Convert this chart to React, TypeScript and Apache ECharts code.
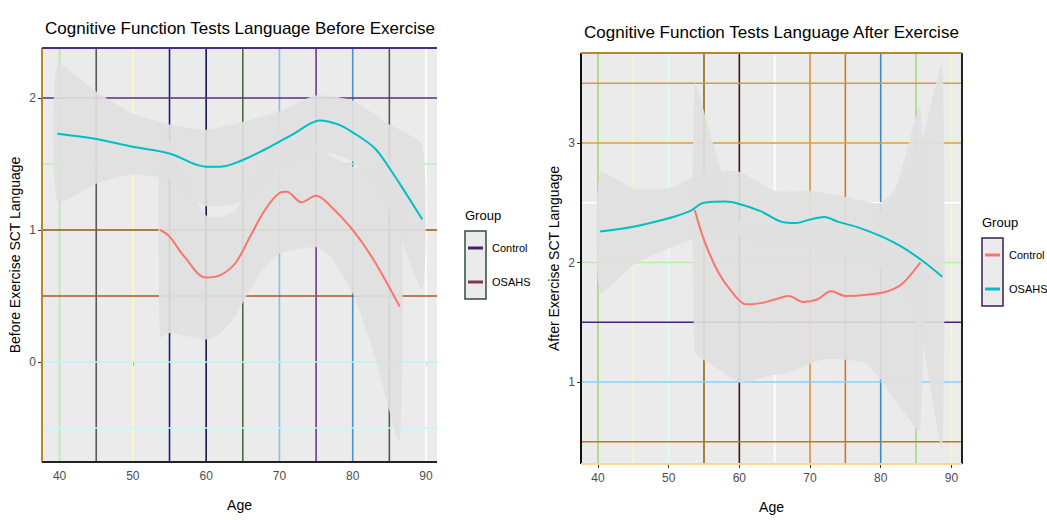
import React, { useEffect, useRef } from "react";
import * as echarts from "echarts";

// ---------- data ----------
const AGE_TICKS = [40, 50, 60, 70, 80, 90];
const BEFORE_Y_TICKS = [0, 1, 2];
const AFTER_Y_TICKS = [1, 2, 3];
const GROUPS = ["Control", "OSAHS"];
const TITLES = [
  "Cognitive Function Tests Language Before Exercise",
  "Cognitive Function Tests Language After Exercise",
];
const Y_TITLES = ["Before Exercise SCT Language", "After Exercise SCT Language"];
const X_TITLE = "Age";

// Before exercise – OSAHS smooth fit and its confidence band
const BEFORE_OSAHS_AGE = [39.7, 45, 50, 55, 60, 62, 65, 68, 70, 72, 74, 75.5, 78, 80, 83, 85, 87, 89.5];
const BEFORE_OSAHS_FIT = [1.73, 1.69, 1.63, 1.58, 1.48, 1.48, 1.53, 1.61, 1.67, 1.73, 1.8, 1.83, 1.8, 1.74, 1.62, 1.47, 1.3, 1.08];
const BEFORE_OSAHS_BAND_AGE = [39.7, 45, 50, 55, 60, 65, 70, 75, 80, 85, 89.5];
const BEFORE_OSAHS_LO = [1.22, 1.35, 1.42, 1.38, 1.18, 1.22, 1.45, 1.6, 1.52, 1.15, 0.55];
const BEFORE_OSAHS_HI = [2.25, 2.05, 1.88, 1.8, 1.76, 1.82, 1.9, 2.02, 1.98, 1.8, 1.64];

// Before exercise – Control
const BEFORE_CONTROL_AGE = [53.7, 55, 57, 60, 62, 64, 66, 68, 70, 71, 73, 75, 77, 80, 83, 86.4];
const BEFORE_CONTROL_FIT = [1.0, 0.95, 0.8, 0.64, 0.66, 0.75, 0.95, 1.15, 1.28, 1.29, 1.21, 1.26, 1.18, 1.0, 0.76, 0.42];
const BEFORE_CONTROL_BAND_AGE = [53.7, 55, 57, 60, 62, 64, 66, 68, 70, 72, 75, 77, 80, 83, 86.4];
const BEFORE_CONTROL_LO = [0.19, 0.22, 0.2, 0.17, 0.22, 0.35, 0.55, 0.72, 0.82, 0.85, 0.87, 0.8, 0.52, 0.05, -0.6];
const BEFORE_CONTROL_HI = [1.81, 1.68, 1.4, 1.11, 1.1, 1.15, 1.35, 1.58, 1.74, 1.68, 1.65, 1.56, 1.48, 1.47, 1.44];

// After exercise – OSAHS
const AFTER_OSAHS_AGE = [40.3, 45, 50, 53, 55, 58, 60, 63, 66, 68, 70, 72, 74, 77, 80, 83, 86, 88.7];
const AFTER_OSAHS_FIT = [2.26, 2.3, 2.37, 2.43, 2.5, 2.51, 2.49, 2.43, 2.34, 2.33, 2.36, 2.38, 2.34, 2.29, 2.22, 2.13, 2.01, 1.88];
const AFTER_OSAHS_BAND_AGE = [40.3, 45, 50, 55, 60, 65, 70, 75, 80, 84, 86, 88.7];
const AFTER_OSAHS_LO = [1.75, 1.98, 2.12, 2.22, 2.22, 2.12, 2.12, 2.08, 1.95, 1.65, 1.3, 0.45];
const AFTER_OSAHS_HI = [2.75, 2.62, 2.62, 2.75, 2.76, 2.6, 2.6, 2.55, 2.5, 2.75, 3.05, 3.65];

// After exercise – Control
const AFTER_CONTROL_AGE = [53.7, 55, 57, 59, 61, 63, 65, 67, 69, 71, 73, 75, 78, 81, 83, 85.6];
const AFTER_CONTROL_FIT = [2.44, 2.19, 1.92, 1.75, 1.65, 1.66, 1.69, 1.72, 1.67, 1.69, 1.76, 1.72, 1.73, 1.76, 1.82, 2.0];
const AFTER_CONTROL_BAND_AGE = [53.7, 56, 60, 64, 67, 72, 78, 82, 85.6];
const AFTER_CONTROL_LO = [1.25, 1.15, 1.0, 1.05, 1.08, 1.19, 1.15, 0.85, 0.6];
const AFTER_CONTROL_HI = [3.5, 3.05, 2.35, 2.3, 2.36, 2.3, 2.3, 2.6, 3.3];

// gridline values
const GRID_AGES = [40, 45, 50, 55, 60, 65, 70, 75, 80, 85, 90];
const BEFORE_GRID_Y = [-0.5, 0, 0.5, 1, 1.5, 2];
const AFTER_GRID_Y = [0.5, 1, 1.5, 2, 2.5, 3, 3.5];

// ---------- styles ----------
const X_RANGE = [37.6, 91.5];
const BEFORE_Y_RANGE = [-0.758, 2.379];
const AFTER_Y_RANGE = [0.314, 3.753];
const FONT = "'Liberation Sans', Arial, sans-serif";
const COLOR_CONTROL = "#F8766D";
const COLOR_OSAHS = "#00BFC4";
const BAND_FILL = "rgba(224,224,224,0.92)";

const BEFORE_VCOLORS = ["#B5EBA0", "#5A5A5A", "#FFF6C2", "#1E1E78", "#14144F", "#4F6B3A", "#7CC3F2", "#6B3A93", "#4B93C4", "#555555", "#FFFFFF"];
const BEFORE_HCOLORS = ["#C2F8FF", "#B4F6F8", "#A8582A", "#8A5A1E", "#B8F2B0", "#5B2D82"];
const BEFORE_EDGES = { left: "#B8862B", top: "#4B2C83", bottom: "#222222", right: null as string | null };
const AFTER_VCOLORS = ["#A5D67A", "#FFF4B8", "#E0FAFA", "#8B6A1A", "#3A1A12", "#FFFFFF", "#D8923F", "#C97A22", "#3B8BC2", "#A8D888", "#FFF6B0"];
const AFTER_HCOLORS = ["#B97A22", "#8FCFF8", "#4A1E7A", "#B6F0A8", "#FFFFFF", "#D9A14E", "#D99A3E"];
const AFTER_EDGES = { left: "#111111", top: "#B8862B", bottom: "#FFD88F", right: "#222222" };

function seg(idx: number, pts: number[][], color: string, width: number) {
  return {
    type: "line",
    xAxisIndex: idx,
    yAxisIndex: idx,
    data: pts,
    symbol: "none",
    silent: true,
    z: 1,
    lineStyle: { color, width },
  };
}

function gridSeries(idx: number, yRange: number[], gridY: number[], vColors: string[], hColors: string[], edges: any) {
  const out: any[] = [];
  GRID_AGES.forEach((a, i) => out.push(seg(idx, [[a, yRange[0]], [a, yRange[1]]], vColors[i], 1.6)));
  gridY.forEach((v, i) => out.push(seg(idx, [[X_RANGE[0], v], [X_RANGE[1], v]], hColors[i], 1.6)));
  if (edges.left) out.push(seg(idx, [[X_RANGE[0], yRange[0]], [X_RANGE[0], yRange[1]]], edges.left, 2));
  if (edges.right) out.push(seg(idx, [[X_RANGE[1], yRange[0]], [X_RANGE[1], yRange[1]]], edges.right, 2));
  if (edges.top) out.push(seg(idx, [[X_RANGE[0], yRange[1]], [X_RANGE[1], yRange[1]]], edges.top, 2));
  if (edges.bottom) out.push(seg(idx, [[X_RANGE[0], yRange[0]], [X_RANGE[1], yRange[0]]], edges.bottom, 2));
  return out;
}

function bandSeries(idx: number, ages: number[], lo: number[], hi: number[]) {
  return {
    type: "custom",
    xAxisIndex: idx,
    yAxisIndex: idx,
    z: 2,
    silent: true,
    clip: true,
    data: ages.map((a, i) => [a, lo[i], hi[i]]),
    encode: { x: 0, y: [1, 2] },
    renderItem: (params: any, api: any) => {
      if (params.dataIndex !== 0) return null;
      const up = ages.map((a, i) => api.coord([a, hi[i]]));
      const dn = ages.map((a, i) => api.coord([a, lo[i]])).reverse();
      return {
        type: "polygon",
        shape: { points: up.concat(dn), smooth: 0.2 },
        style: { fill: BAND_FILL },
      };
    },
  };
}

function fitSeries(idx: number, name: string, ages: number[], fit: number[], color: string) {
  return {
    type: "line",
    name,
    xAxisIndex: idx,
    yAxisIndex: idx,
    data: ages.map((a, i) => [a, fit[i]]),
    smooth: 0.35,
    symbol: "none",
    showSymbol: false,
    z: 3,
    lineStyle: { color, width: 2 },
  };
}

function xAxisCfg(idx: number) {
  return {
    type: "value",
    gridIndex: idx,
    min: X_RANGE[0],
    max: X_RANGE[1],
    splitLine: { show: false },
    axisLine: { show: false },
    axisTick: { show: true, customValues: AGE_TICKS, length: 4, lineStyle: { color: "#333333", width: 1 } },
    axisLabel: { customValues: AGE_TICKS, color: "#4D4D4D", fontSize: 12, margin: 8, fontFamily: FONT },
    name: X_TITLE,
    nameLocation: "middle",
    nameGap: 36,
    nameTextStyle: { fontSize: 14, color: "#000000", fontFamily: FONT },
  };
}

function yAxisCfg(idx: number, range: number[], ticks: number[], title: string) {
  return {
    type: "value",
    gridIndex: idx,
    min: range[0],
    max: range[1],
    splitLine: { show: false },
    axisLine: { show: false },
    axisTick: { show: true, customValues: ticks, length: 4, lineStyle: { color: "#333333", width: 1 } },
    axisLabel: { customValues: ticks, color: "#4D4D4D", fontSize: 12, margin: 6, fontFamily: FONT },
    name: title,
    nameLocation: "middle",
    nameGap: 20,
    nameTextStyle: { fontSize: 14, color: "#000000", fontFamily: FONT },
  };
}

function legendGraphic(x: number, y: number, keyColors: string[], stroke: string) {
  const els: any[] = [];
  els.push({
    type: "text",
    left: x,
    top: y,
    style: { text: "Group", fontSize: 13, fill: "#000", fontFamily: FONT },
  });
  els.push({
    type: "rect",
    shape: { x: x, y: y + 22, width: 21, height: 68 },
    style: { fill: "#EBEBEB", stroke, lineWidth: 1.5 },
  });
  GROUPS.forEach((g, i) => {
    const cy = y + 22 + 17 + i * 34;
    els.push({
      type: "line",
      shape: { x1: x + 3, y1: cy, x2: x + 18, y2: cy },
      style: { stroke: keyColors[i], lineWidth: 3 },
    });
    els.push({
      type: "text",
      x: x + 27,
      y: cy,
      style: { text: g, fontSize: 11, fill: "#000", fontFamily: FONT, verticalAlign: "middle" },
    });
  });
  return els;
}

export default function App() {
  const ref = useRef<HTMLDivElement>(null);
  useEffect(() => {
    document.body.style.margin = "0";
    if (!ref.current) return;
    const chart = echarts.init(ref.current, null, { renderer: "svg" });
    const series: any[] = [
      ...gridSeries(0, BEFORE_Y_RANGE, BEFORE_GRID_Y, BEFORE_VCOLORS, BEFORE_HCOLORS, BEFORE_EDGES),
      ...gridSeries(1, AFTER_Y_RANGE, AFTER_GRID_Y, AFTER_VCOLORS, AFTER_HCOLORS, AFTER_EDGES),
      bandSeries(0, BEFORE_OSAHS_BAND_AGE, BEFORE_OSAHS_LO, BEFORE_OSAHS_HI),
      bandSeries(0, BEFORE_CONTROL_BAND_AGE, BEFORE_CONTROL_LO, BEFORE_CONTROL_HI),
      bandSeries(1, AFTER_OSAHS_BAND_AGE, AFTER_OSAHS_LO, AFTER_OSAHS_HI),
      bandSeries(1, AFTER_CONTROL_BAND_AGE, AFTER_CONTROL_LO, AFTER_CONTROL_HI),
      fitSeries(0, GROUPS[1], BEFORE_OSAHS_AGE, BEFORE_OSAHS_FIT, COLOR_OSAHS),
      fitSeries(0, GROUPS[0], BEFORE_CONTROL_AGE, BEFORE_CONTROL_FIT, COLOR_CONTROL),
      fitSeries(1, GROUPS[1], AFTER_OSAHS_AGE, AFTER_OSAHS_FIT, COLOR_OSAHS),
      fitSeries(1, GROUPS[0], AFTER_CONTROL_AGE, AFTER_CONTROL_FIT, COLOR_CONTROL),
    ];
    chart.setOption({
      animation: false,
      backgroundColor: "#FFFFFF",
      title: [
        { text: TITLES[0], left: 40, top: 15, textStyle: { fontSize: 17, fontWeight: "normal", color: "#000", fontFamily: FONT } },
        { text: TITLES[1], left: 579, top: 19, textStyle: { fontSize: 17, fontWeight: "normal", color: "#000", fontFamily: FONT } },
      ],
      grid: [
        { left: 42, top: 48, width: 395, height: 414, show: true, backgroundColor: "#EBEBEB", borderWidth: 0 },
        { left: 581, top: 53, width: 381, height: 411, show: true, backgroundColor: "#EBEBEB", borderWidth: 0 },
      ],
      xAxis: [xAxisCfg(0), xAxisCfg(1)],
      yAxis: [
        yAxisCfg(0, BEFORE_Y_RANGE, BEFORE_Y_TICKS, Y_TITLES[0]),
        yAxisCfg(1, AFTER_Y_RANGE, AFTER_Y_TICKS, Y_TITLES[1]),
      ],
      graphic: [
        ...legendGraphic(465, 209, ["#4B1C6B", "#7B3B4B"], "#2F4F3F"),
        ...legendGraphic(982, 216, [COLOR_CONTROL, COLOR_OSAHS], "#3B1F5B"),
      ],
      series,
    });
    return () => chart.dispose();
  }, []);
  return <div ref={ref} style={{ width: 1047, height: 520 }} />;
}
